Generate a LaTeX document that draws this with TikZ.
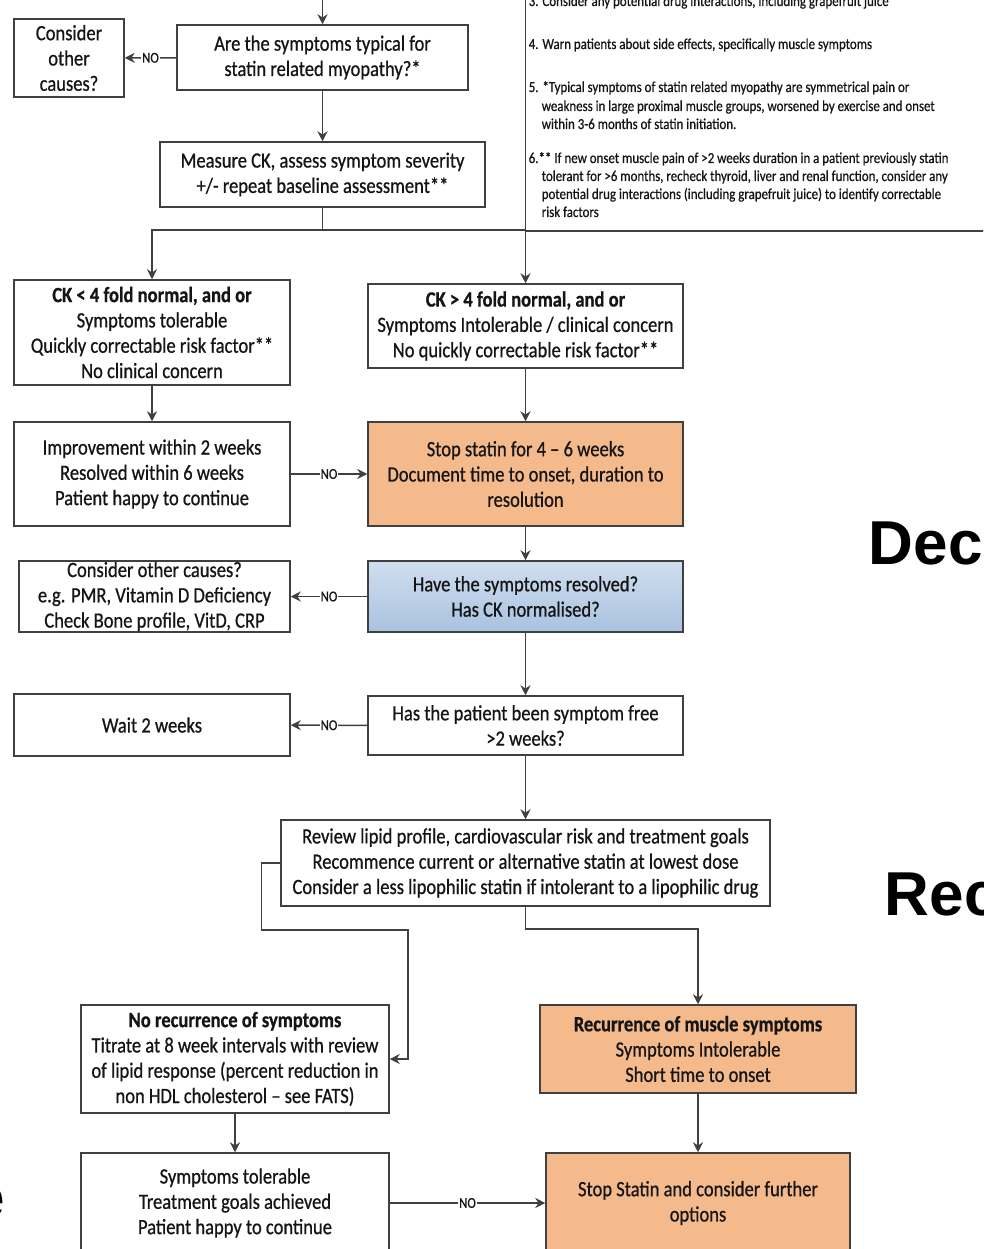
\documentclass[tikz,border=0pt]{standalone}
\usepackage{fontspec}
\setmainfont{Carlito}[FakeStretch=0.85, FakeBold=0.7]
\newfontfamily\headfont{Liberation Sans}
\usetikzlibrary{arrows.meta}

\definecolor{edgegray}{HTML}{404040}
\definecolor{textdark}{HTML}{151515}
\definecolor{stoporange}{HTML}{F5BA8C}
\definecolor{asktop}{HTML}{D0DEEF}
\definecolor{askbottom}{HTML}{A9C2DF}

\begin{document}
\begin{tikzpicture}[x=1pt, y=-1pt, line width=1.5pt, >={Stealth[length=10pt,width=10pt]},
	box/.style={draw=edgegray, fill=white, align=center, inner sep=0pt,
		text=textdark, font=\fontsize{21.8}{25.3}\selectfont},
	stopbox/.style={box, fill=stoporange},
	askbox/.style={box, top color=asktop, bottom color=askbottom},
	flow/.style={->, draw=edgegray},
	nolabel/.style={fill=white, inner sep=1pt, text=textdark, font=\fontsize{15}{16}\selectfont},
	noteline/.style={anchor=base west, inner sep=0pt, text=textdark, font=\fontsize{15.2}{19}\selectfont},
	bigword/.style={inner sep=0pt, font=\headfont\bfseries\fontsize{62}{70}\selectfont}]
			\useasboundingbox (0,0) rectangle (983,1249);
			\clip (0,0) rectangle (983,1249);

			% Notes panel at the top right, cut off by the page.
			\draw[edgegray] (525.5,-5) |- (995,231);
			\foreach \xx/\yy/\txt in {
				528/6/{3. Consider any potential drug interactions, including grapefruit  juice},
				528/49/{4. Warn patients about side effects, specifically muscle symptoms},
				528/92/{5. *Typical symptoms of statin related myopathy are symmetrical  pain or},
				541/111/{weakness in large proximal muscle groups, worsened by exercise and onset},
				541/129/{within 3-6 months of statin initiation.},
				528/163/{6.** If new onset muscle pain of >2 weeks duration in a patient previously statin},
				541/181/{tolerant for >6 months, recheck thyroid, liver and renal function, consider any},
				541/199/{potential drug interactions (including grapefruit juice) to identify correctable},
				541/217/{risk factors}} {
				\node[noteline] (note\yy) at (\xx,\yy) {\txt};
			}

			% Slide titles that show only in part.
			\node[bigword, anchor=base west] (dec) at (868,564) {Dec};
			\node[bigword, anchor=base west] (rec) at (884,915) {Rec};
			\node[bigword, anchor=base east] (frag) at (6,1218) {e};

			% First questions.
			\coordinate (entry) at (322.5,-5);
			\node[box, minimum width=110pt, minimum height=78pt] (other) at (69,58) {Consider\\other\\causes?};
			\node[box, minimum width=291pt, minimum height=65pt] (typical) at (322.5,57.5) {Are the symptoms typical for\\statin related myopathy?*};
			\node[box, minimum width=325pt, minimum height=65pt] (measure) at (322.5,174.5) {Measure CK, assess symptom severity\\+/- repeat baseline assessment**};
			\coordinate (fork) at (322.5,230);

			% Two branches on CK and severity.
			\node[box, minimum width=276pt, minimum height=105pt] (cklow) at (152,332.5) {\textbf{CK < 4 fold normal, and or}\\Symptoms tolerable\\Quickly correctable risk factor**\\No clinical concern};
			\node[box, minimum width=315pt, minimum height=84pt] (ckhigh) at (525.5,326) {\textbf{CK > 4 fold normal, and or}\\Symptoms Intolerable / clinical concern\\No quickly correctable risk factor**};
			\node[box, minimum width=276pt, minimum height=104pt] (improve) at (152,474) {Improvement within 2 weeks\\Resolved within 6 weeks\\Patient happy to continue};
			\node[stopbox, minimum width=315pt, minimum height=104pt] (stop) at (525.5,474) {Stop statin for 4 -- 6 weeks\\Document time to onset, duration to\\resolution};
			\node[askbox, minimum width=315pt, minimum height=71pt] (resolved) at (525.5,596.5) {Have the symptoms resolved?\\Has CK normalised?};
			\node[box, minimum width=271pt, minimum height=71pt] (causes) at (154.5,596.5) {Consider other causes?\\e.g. PMR, Vitamin D Deficiency\\Check Bone profile, VitD, CRP};
			\node[box, minimum width=315pt, minimum height=59pt] (free) at (525.5,725.5) {Has the patient been symptom free\\>2 weeks?};
			\node[box, minimum width=276pt, minimum height=62pt] (wait) at (152,725) {Wait 2 weeks};

			% Rechallenge.
			\node[box, minimum width=489pt, minimum height=86pt] (review) at (525.5,863) {Review lipid profile, cardiovascular risk and treatment goals\\Recommence current or alternative statin at lowest dose\\Consider a less lipophilic statin if intolerant to a lipophilic drug};
			\node[box, minimum width=308pt, minimum height=108pt] (norecur) at (235,1059) {\textbf{No recurrence of symptoms}\\Titrate at 8 week intervals with review\\of lipid response (percent reduction in\\non HDL cholesterol -- see FATS)};
			\node[stopbox, minimum width=316pt, minimum height=88pt] (recur) at (698,1049) {\textbf{Recurrence of muscle symptoms}\\Symptoms Intolerable\\Short time to onset};
			\node[box, minimum width=308pt, minimum height=100pt] (goals) at (235,1203) {Symptoms tolerable\\Treatment goals achieved\\Patient happy to continue};
			\node[stopbox, minimum width=304pt, minimum height=100pt] (further) at (698,1203) {Stop Statin and consider further\\options};

			% Connectors.
			\draw[flow] (entry) -- (typical);
			\draw[flow] (typical) -- node[nolabel] {NO} (other);
			\draw[flow] (typical) -- (measure);
			\draw[edgegray] (measure) -- (fork);
			\draw[flow] (fork) -| (cklow);
			\draw[flow] (fork) -| (ckhigh);
			\draw[flow] (cklow) -- (improve);
			\draw[flow] (ckhigh) -- (stop);
			\draw[flow] (improve) -- node[nolabel] {NO} (stop);
			\draw[flow] (stop) -- (resolved);
			\draw[flow] (resolved) -- node[nolabel] {NO} (causes);
			\draw[flow] (resolved) -- (free);
			\draw[flow] (free) -- node[nolabel] {NO} (wait);
			\draw[flow] (free) -- (review);
			\draw[flow] (review.west) -- ++(-19,0) |- (408,930) |- (norecur.east);
			\draw[flow] (review.south) -- ++(0,22) -| (recur.north);
			\draw[flow] (norecur) -- (goals);
			\draw[flow] (recur) -- (further);
			\draw[flow] (goals) -- node[nolabel] {NO} (further);
		\end{tikzpicture}
\end{document}
